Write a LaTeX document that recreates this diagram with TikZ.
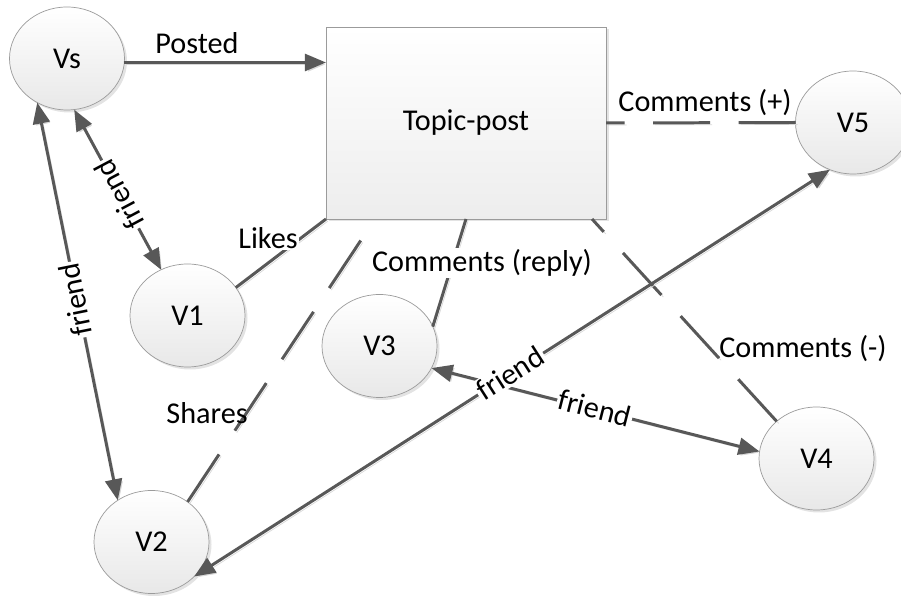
\documentclass[tikz,border=0pt]{standalone}
\usepackage{fontspec}
\setmainfont{Carlito}
\usetikzlibrary{shapes.geometric, shadows}
\usetikzlibrary{positioning, arrows.meta}

\definecolor{edgegray}{RGB}{88,88,88}
\definecolor{rimgray}{RGB}{155,155,155}
\definecolor{shadegray}{RGB}{215,215,215}

\tikzset{
  person/.style={ellipse, draw=rimgray, line width=0.4pt, top color=white,
    bottom color=black!9, minimum width=2.3cm, minimum height=2.06cm,
    inner sep=0pt, outer sep=0pt,
    drop shadow={shadow xshift=0.05cm, shadow yshift=-0.05cm, fill=black!18, opacity=0.6}},
  topic/.style={rectangle, draw=rimgray, line width=0.4pt, top color=white,
    bottom color=black!7, minimum width=5.6cm, minimum height=3.84cm,
    inner sep=0pt, outer sep=0pt,
    drop shadow={shadow xshift=0.05cm, shadow yshift=-0.05cm, fill=black!18, opacity=0.6}},
  tie/.style={edgegray, line width=1.7pt,
    preaction={draw=shadegray, transform canvas={shift={(0.04,-0.04)}}}},
  dashtie/.style={edgegray, line width=1.7pt, dash pattern=on 1.14cm off 0.57cm,
    preaction={draw=shadegray, dash pattern=on 1.14cm off 0.57cm,
      transform canvas={shift={(0.04,-0.04)}}}},
  onearrow/.style={-{Triangle[length=12pt, width=9.6pt]}},
  twoarrow/.style={{Triangle[length=12pt, width=9.6pt]}-{Triangle[length=12pt, width=9.6pt]}},
  gaplbl/.style={fill=white, inner sep=1pt}
}

\begin{document}
\begin{tikzpicture}[font=\fontsize{17.2}{20}\selectfont]
  \useasboundingbox (0,0) rectangle (18.02,11.96);

  \draw (9.32,9.5) node[topic] (tp) {Topic-post};

  \draw (1.34,10.79) node[person] (vs) {Vs};
  \draw (3.75,5.65) node[person] (v1) {V1};
  \draw (3.03,1.12) node[person] (v2) {V2};
  \draw (7.59,5.04) node[person] (v3) {V3};
  \draw (16.33,2.79) node[person] (v4) {V4};
  \draw (17.06,9.51) node[person] (v5) {V5};

  \draw[tie, onearrow] (vs.356) -- (vs.356 -| tp.west);
  \draw[tie, twoarrow] (vs.236) -- (v2.129);
  \draw[tie, twoarrow] (vs.278) -- (v1.120);

  \draw[tie] (v1.30) -- (tp.south west);
  \draw[dashtie] (v2.48) -- ([xshift=0.98cm]tp.south west);
  \draw[tie] (v3.20) -- (tp.south);
  \draw[dashtie] (v5.west) -- (tp.east);
  \draw[dashtie] (v4.137) -- ([xshift=-0.28cm]tp.south east);

  \draw[tie, twoarrow] (v3.337) -- (v4.173);
  \draw[tie, twoarrow] (v2.321) -- (v5.244);

  \draw (3.94,11.1) node (posted) {Posted};
  \draw (1.5,5.96) node[gaplbl, rotate=101.4] (fr1) {friend};
  \draw (2.38,8.06) node[gaplbl, rotate=118] (fr2) {friend};
  \draw (5.36,7.2) node[gaplbl] (likes) {Likes};
  \draw (4.14,3.7) node (shares) {Shares};
  \draw (9.64,6.7) node[gaplbl] (reply) {Comments (reply)};
  \draw (14.1,9.9) node (plus) {Comments (+)};
  \draw (16.06,4.98) node (minus) {Comments (-)};
  \draw (11.9,3.8) node[gaplbl, rotate=-14.3] (fr3) {friend};
  \draw (10.2,4.5) node[gaplbl, rotate=32.6] (fr4) {friend};

\end{tikzpicture}
\end{document}
